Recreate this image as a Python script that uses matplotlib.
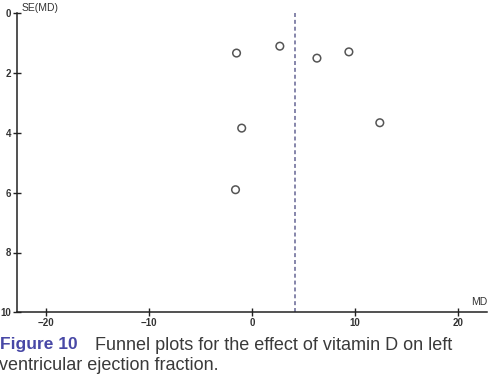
import matplotlib.pyplot as plt
import numpy as np

# funnel plot data: mean difference vs its standard error
md = [-1.5, 2.7, 6.3, 9.4, -1.0, 12.4, -1.6]
se_md = [1.33, 1.10, 1.50, 1.29, 3.84, 3.66, 5.90]
pooled_md = 4.2

x_ticks = [-20, -10, 0, 10, 20]
y_ticks = [0, 2, 4, 6, 8, 10]

plt.rcParams['font.family'] = ['Liberation Sans', 'DejaVu Sans']

W, H = 495, 376
fig = plt.figure(figsize=(W / 100, H / 100), dpi=100)
ax = fig.add_axes([17 / W, (H - 312.3) / H, 470 / W, 299 / H])

ax.scatter(md, se_md, s=30, facecolors='none', edgecolors='#555555', linewidths=1.1, zorder=3)
ax.plot([pooled_md, pooled_md], [0, 10], color='#7c7ca4', lw=1.3, ls=(0, (2.2, 1.6)))

ax.set_xlim(-22.8, 22.8)
ax.set_ylim(10, 0)
ax.set_xticks(x_ticks)
ax.set_yticks(y_ticks)

for side in ['top', 'right']:
    ax.spines[side].set_visible(False)
for side in ['left', 'bottom']:
    ax.spines[side].set_linewidth(1.1)
    ax.spines[side].set_color('#222222')

ax.tick_params(direction='inout', length=6, width=1.0, colors='#222222',
               labelsize=7, pad=1)
for lab in ax.get_xticklabels() + ax.get_yticklabels():
    lab.set_fontweight('bold')
    lab.set_color('#333333')

fig.text(22 / W, 1 - 8 / H, 'SE(MD)', fontsize=7.5, color='#333333', va='center', ha='left')
fig.text(487 / W, 1 - 302 / H, 'MD', fontsize=7.5, color='#333333', va='center', ha='right')

# caption
fig.text(0, 1 - 345 / H, 'Figure 10', fontsize=12.5, fontweight='bold', color='#4848a6',
         va='center', ha='left')
fig.text(95 / W, 1 - 345 / H, 'Funnel plots for the effect of vitamin D on left',
         fontsize=13, color='#3a3a3a', va='center', ha='left')
fig.text(-1 / W, 1 - 366 / H, 'ventricular ejection fraction.',
         fontsize=13, color='#3a3a3a', va='center', ha='left')

fig.savefig('out.png', dpi=100)
